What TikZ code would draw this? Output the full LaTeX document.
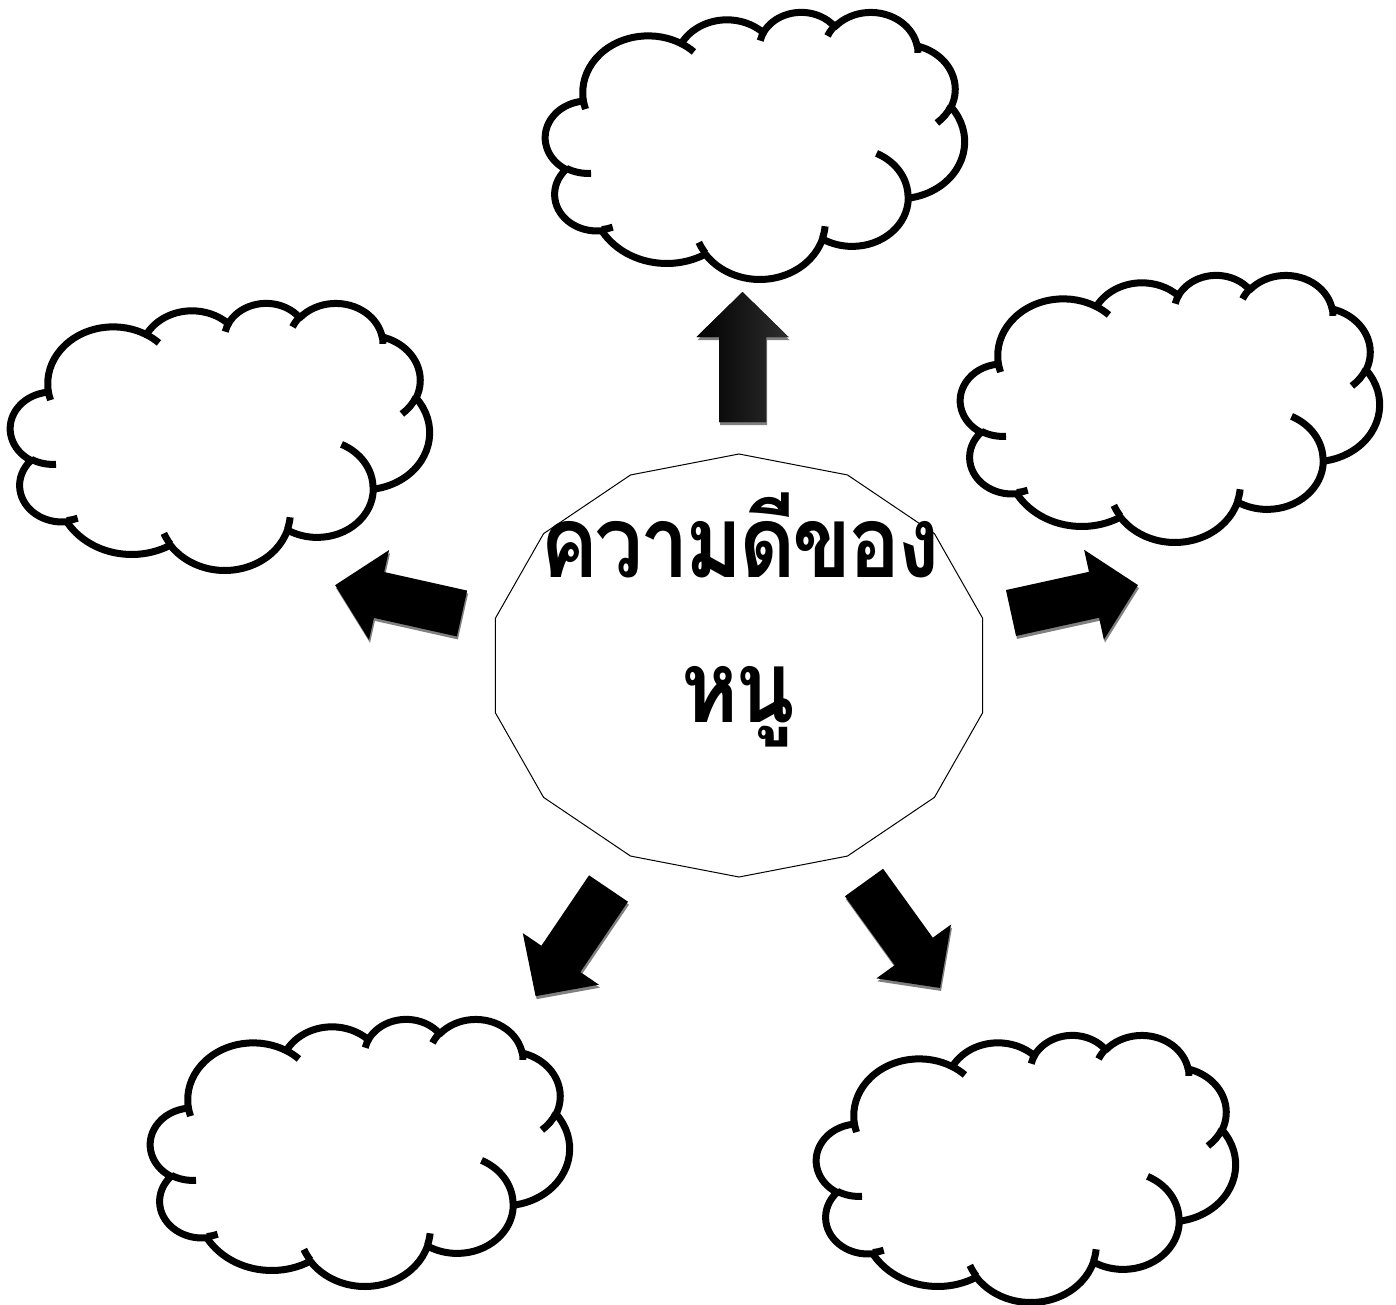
\documentclass[tikz,border=0pt]{standalone}
\usepackage{fontspec}
\newfontfamily\thaifont[Script=Thai, LetterSpace=-4]{Loma}

% one arc of the cloud outline: x radius, y radius, start angle, sweep
\newcommand\cloudarc[4]{%
  \pgfextra{%
    \pgfmathsetmacro\cst{atan2(#1*sin(#3),#2*cos(#3))}%
    \pgfmathsetmacro\cen{atan2(#1*sin(#3+#4),#2*cos(#3+#4))}%
    \pgfmathsetmacro\cdl{\cen-\cst}%
    \pgfmathsetmacro\cdl{\cdl+360*((#4>0)&&(\cdl<0))-360*((#4<0)&&(\cdl>0))}}%
  arc[start angle=\cst, delta angle=\cdl, x radius=#1, y radius=#2]}

% cloud with top left corner at (#1,#2)
\newcommand\cloud[2]{%
  \begin{scope}[shift={(#1,#2)}, xscale=419/43.2, yscale=267/43.2]
    \draw[cloudline, fill=white] (3.9,14.37)
      \cloudarc{6.753}{9.19}{-190.48748}{123.78053}
      \cloudarc{5.333}{7.267}{-144.10238}{89.94523}
      \cloudarc{4.365}{5.945}{-145.80792}{99.72302}
      \cloudarc{4.857}{6.595}{-130.98607}{117.24173}
      \cloudarc{5.333}{7.273}{-78.70888}{109.02692}
      \cloudarc{6.775}{9.22}{-46.26725}{130.269}
      \cloudarc{5.785}{7.867}{0.62502}{114.03333}
      \cloudarc{6.752}{9.215}{22.4516}{115.17255}
      \cloudarc{7.72}{10.543}{66.24263}{75.71102}
      \cloudarc{4.36}{5.918}{-274.94208}{146.73557}
      \cloudarc{4.345}{5.945}{-246.8285}{152.51885}
      -- cycle;
    \draw[cloudline]
      (4.693,26.177) \cloudarc{4.345}{5.945}{86.742}{26.4295}
      (6.928,34.899) \cloudarc{4.36}{5.918}{73.61047}{11.44747}
      (16.478,39.09) \cloudarc{6.752}{9.215}{137.62415}{14.0811}
      (28.827,34.751) \cloudarc{6.752}{9.215}{6.45327}{15.99835}
      (34.129,22.954) \cloudarc{5.785}{7.867}{-70.29235}{70.91737}
      (41.798,15.354) \cloudarc{5.333}{7.273}{30.31803}{27.7515}
      (38.324,5.426) \cloudarc{4.857}{6.595}{-13.74433}{14.8589}
      (29.078,3.952) \cloudarc{4.857}{6.595}{-149.18145}{18.19537}
      (22.141,4.72) \cloudarc{4.365}{5.945}{-163.49427}{17.68635}
      (14.0,5.192) \cloudarc{6.753}{9.19}{-66.70695}{12.31935}
      (4.127,15.789) \cloudarc{6.753}{9.19}{157.65435}{11.85817};
  \end{scope}}

% block arrow: tail centre (#2,#3), direction #4
\def\arrowpath{(0,-23.5) -- (85,-23.5) -- (85,-46) -- (130,0) -- (85,46) -- (85,23.5) -- (0,23.5) -- cycle}
\newcommand\blockarrow[4][bigarrow]{%
  \fill[arrowshade, shift={(#2+1,#3+3)}, rotate=#4] \arrowpath;
  \fill[#1, shift={(#2,#3)}, rotate=#4] \arrowpath;}

\begin{document}
\begin{tikzpicture}[x=0.5pt, y=-0.5pt,
  cloudline/.style={line width=3.5pt, line join=round},
  bigarrow/.style={fill=black},
  arrowshade/.style={fill=black!50},
  polyline/.style={line width=0.5pt},
  title/.style={font=\thaifont\bfseries\fontsize{50}{60}\selectfont, anchor=base, inner sep=0pt}]

\useasboundingbox (0,0) rectangle (1396,1305);
\fill[white] (0,0) rectangle (1396,1305);

% Parameters
\def\cx{739}
\def\cy{665.5}
\def\rx{250}
\def\ry{211.5}

% Centre polygon
\draw[polyline] (\cx,\cy-\ry)
  \foreach \k in {1,...,13} { -- ({\cx+\rx*cos(90+\k*360/14)},{\cy-\ry*sin(90+\k*360/14)}) }
  -- cycle;

% Title
\node[title] (goodness) at (740,577) {\scalebox{0.87}[1]{ความดีของ}};
\node[title] (mine) at (738,722) {\scalebox{0.87}[1]{หนู}};

% Clouds
\cloud{545.5}{11.5}
\cloud{10.5}{302.5}
\cloud{960.5}{274.5}
\cloud{150.5}{1018.5}
\cloud{816.5}{1034.5}

% Arrows
\blockarrow[left color=black, right color=black!82]{742.5}{422}{90}
\blockarrow{462}{613.5}{167.4}
\blockarrow{1011}{613}{12.4}
\blockarrow{608.5}{888.5}{-124.1}
\blockarrow{864}{882.5}{-54.2}

\end{tikzpicture}
\end{document}
